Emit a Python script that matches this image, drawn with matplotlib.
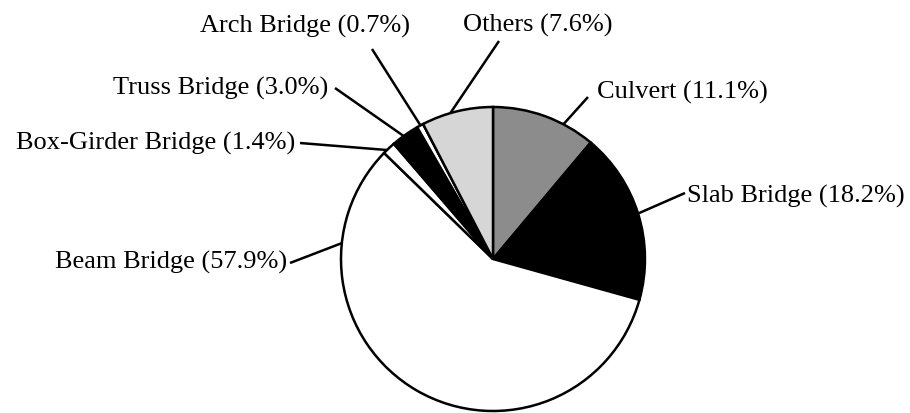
import numpy as np
import matplotlib
matplotlib.use('Agg')
import matplotlib.pyplot as plt

# bridge type shares (%), clockwise from 12 o'clock
names = ['Culvert', 'Slab Bridge', 'Beam Bridge', 'Box-Girder Bridge',
         'Truss Bridge', 'Arch Bridge', 'Others']
shares = [11.1, 18.2, 57.9, 1.4, 3.0, 0.7, 7.6]
fills = ['#8c8c8c', '#000000', '#ffffff', '#ffffff', '#000000', '#ffffff', '#d6d6d6']

W, H = 910, 413
CX, CY, R = 493, H - 259, 152

# label placement: text anchor, alignment, outer leader end, angle where leader meets the rim
label_cfg = {
    'Culvert':           dict(txt=(597, 92),  ha='left',   lead=(588, 97),  ang=62.4),
    'Slab Bridge':       dict(txt=(687, 196), ha='left',   lead=(685, 193), ang=17.4),
    'Beam Bridge':       dict(txt=(287, 262), ha='right',  lead=(290, 263), ang=174.0),
    'Box-Girder Bridge': dict(txt=(295, 143), ha='right',  lead=(300, 143), ang=134.2),
    'Truss Bridge':      dict(txt=(328, 88),  ha='right',  lead=(335, 88),  ang=126.0),
    'Arch Bridge':       dict(txt=(305, 26),  ha='center', lead=(372, 49),  ang=118.5),
    'Others':            dict(txt=(538, 25),  ha='center', lead=(499, 41),  ang=106.3),
}

plt.rcParams['font.family'] = ['Liberation Serif', 'DejaVu Serif']

fig = plt.figure(figsize=(W / 100, H / 100), dpi=100)
ax = fig.add_axes([0, 0, 1, 1])

ax.pie(shares, colors=fills, startangle=90, counterclock=False,
       center=(CX, CY), radius=R,
       wedgeprops=dict(edgecolor='black', linewidth=1.8))

for name, val in zip(names, shares):
    c = label_cfg[name]
    a = np.deg2rad(c['ang'])
    rim = (CX + R * np.cos(a), CY + R * np.sin(a))
    ax.plot([c['lead'][0], rim[0]], [H - c['lead'][1], rim[1]],
            color='black', lw=1.8, solid_capstyle='butt')
    ax.text(c['txt'][0], H - c['txt'][1], f'{name} ({val:.1f}%)',
            ha=c['ha'], va='center', fontsize=19, color='black')

ax.set_xlim(0, W)
ax.set_ylim(0, H)
ax.set_aspect('equal')
ax.axis('off')

fig.savefig('out.png', dpi=100, facecolor='white')
